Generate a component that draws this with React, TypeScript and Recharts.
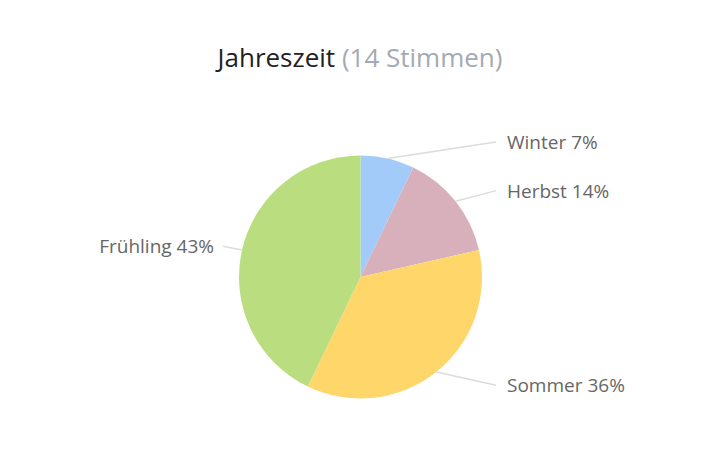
import { PieChart, Pie, Cell } from 'recharts';

const seasons = ['Winter', 'Herbst', 'Sommer', 'Frühling'];
const votes = [1, 2, 5, 6];
const colors = ['#a3cbfa', '#d7b0bc', '#ffd66a', '#badd80'];

const data = seasons.map((name, i) => ({ name, value: votes[i] }));

const RAD = Math.PI / 180;

function SliceLabel(props: any) {
  const { cx, cy, midAngle, outerRadius, percent, name } = props;
  const sin = Math.sin(-midAngle * RAD);
  const cos = Math.cos(-midAngle * RAD);
  const right = cos >= 0;
  const sx = cx + outerRadius * cos;
  const sy = cy + outerRadius * sin;
  const ly = cy + (outerRadius + 17) * sin;
  const lx = right ? cx + outerRadius + 25 : cx - outerRadius - 25;
  const ex = right ? lx - 11 : lx + 9;
  return (
    <g>
      <path d={`M${sx},${sy}L${ex},${ly}`} stroke="#dcdcdc" strokeWidth={1.5} fill="none" />
      <text
        x={lx}
        y={ly}
        textAnchor={right ? 'start' : 'end'}
        dominantBaseline="central"
        fill="#666666"
        fontSize={19}
        fontFamily="'Open Sans', sans-serif"
      >
        {`${name} ${Math.round(percent * 100)}%`}
      </text>
    </g>
  );
}

export default function App() {
  return (
    <div style={{ position: 'absolute', left: 0, top: 0, width: 720, height: 466, background: '#fff' }}>
      <div
        style={{
          position: 'absolute',
          top: 39,
          left: 0,
          width: 720,
          textAlign: 'center',
          fontFamily: "'Open Sans', sans-serif",
          fontSize: 26,
          color: '#222222',
        }}
      >
        Jahreszeit <span style={{ color: '#a3aab4' }}>(14 Stimmen)</span>
      </div>
      <PieChart width={720} height={466} margin={{ top: 0, right: 0, bottom: 0, left: 0 }}>
        <Pie
          data={data}
          dataKey="value"
          nameKey="name"
          cx={360.5}
          cy={277}
          outerRadius={121.5}
          startAngle={90}
          endAngle={-270}
          stroke="none"
          label={SliceLabel}
          labelLine={false}
          isAnimationActive={false}
        >
          {data.map((d, i) => (
            <Cell key={d.name} fill={colors[i]} />
          ))}
        </Pie>
      </PieChart>
    </div>
  );
}
